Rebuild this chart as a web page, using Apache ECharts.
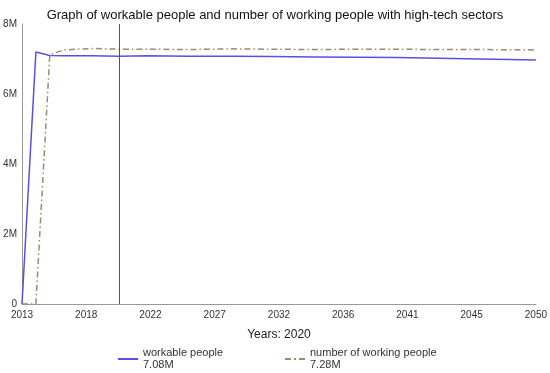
<!DOCTYPE html>
<html><head><meta charset="utf-8">
<script src="https://cdn.jsdelivr.net/npm/echarts@6/dist/echarts.min.js"></script>
<style>html,body{margin:0;padding:0;background:#fff}#c{width:550px;height:373px}</style>
</head><body><div id="c"></div>
<script>
const tickLabels = ['2013','2018','2022','2027','2032','2036','2041','2045','2050'];
const years = [2013, 2014, 2015, 2016, 2018, 2020, 2022, 2025, 2028, 2031, 2034, 2037, 2040, 2043, 2046, 2050];
const workable = [0, 7.2, 7.1, 7.09, 7.09, 7.08, 7.09, 7.08, 7.08, 7.07, 7.06, 7.05, 7.04, 7.02, 7.0, 6.97];
const working  = [0, 0, 7.12, 7.26, 7.3, 7.28, 7.28, 7.27, 7.29, 7.28, 7.27, 7.28, 7.28, 7.27, 7.27, 7.26];
const cursorYear = 2020;
const startYear = 2013, endYear = 2050;
const step = (endYear - startYear) / (tickLabels.length - 1);

const toPts = arr => years.map((y, i) => [y - startYear, arr[i] * 1e6]);
const fmtM = v => (v / 1e6).toFixed(2) + 'M';
const idx = years.indexOf(cursorYear);
const legendText = { fontFamily: 'Liberation Sans', fontSize: 11, color: '#333', lineHeight: 12 };

const chart = echarts.init(document.getElementById('c'));
chart.setOption({
  animation: false,
  title: { text: 'Graph of workable people and number of working people with high-tech sectors', left: 'center', top: 4,
    textStyle: { fontFamily: 'Liberation Sans', fontSize: 13, fontWeight: 'normal', color: '#111' } },
  grid: { left: 22, right: 10, top: 24, bottom: 69 },
  xAxis: { type: 'value', min: 0, max: endYear - startYear, interval: step,
    name: 'Years: ' + cursorYear, nameLocation: 'middle', nameGap: 25,
    nameTextStyle: { fontFamily: 'Liberation Sans', fontSize: 12, color: '#222' },
    axisLine: { lineStyle: { color: '#999' } }, axisTick: { show: false }, splitLine: { show: false },
    axisLabel: { margin: 6, fontFamily: 'Liberation Sans', fontSize: 10, color: '#333',
      formatter: v => tickLabels[Math.round(v / step)] } },
  yAxis: { type: 'value', min: 0, max: 8e6, interval: 2e6,
    axisLine: { show: true, lineStyle: { color: '#999' } }, axisTick: { show: false }, splitLine: { show: false },
    axisLabel: { margin: 5, fontFamily: 'Liberation Sans', fontSize: 10, color: '#333',
      formatter: v => v === 0 ? '0' : (v / 1e6) + 'M' } },
  legend: [
    { data: ['workable people'], left: 113, top: 342, itemWidth: 20, itemHeight: 2, itemGap: 4,
      icon: 'path://M0,0H20V2H0Z',
      textStyle: legendText,
      formatter: n => n + '\n' + fmtM(workable[idx] * 1e6) },
    { data: ['number of working people'], left: 280, top: 342, itemWidth: 20, itemHeight: 2, itemGap: 4,
      icon: 'path://M0,0H6V2H0Z M9,0H11V2H9Z M14,0H20V2H14Z',
      textStyle: legendText,
      formatter: n => n + '\n' + fmtM(working[idx] * 1e6) }
  ],
  series: [
    { name: 'workable people', type: 'line', data: toPts(workable), showSymbol: false, symbol: 'none',
      lineStyle: { color: '#5b4fe0', width: 1.5 }, itemStyle: { color: '#5b4fe0' },
      markLine: { silent: true, symbol: 'none', label: { show: false },
        lineStyle: { color: '#555', width: 1, type: 'solid' }, data: [{ xAxis: cursorYear - startYear }] } },
    { name: 'number of working people', type: 'line', data: toPts(working), showSymbol: false, symbol: 'none',
      lineStyle: { color: '#9c8a72', width: 1.5, type: [6, 3, 1.5, 3] }, itemStyle: { color: '#9c8a72' } }
  ]
});
</script></body></html>
